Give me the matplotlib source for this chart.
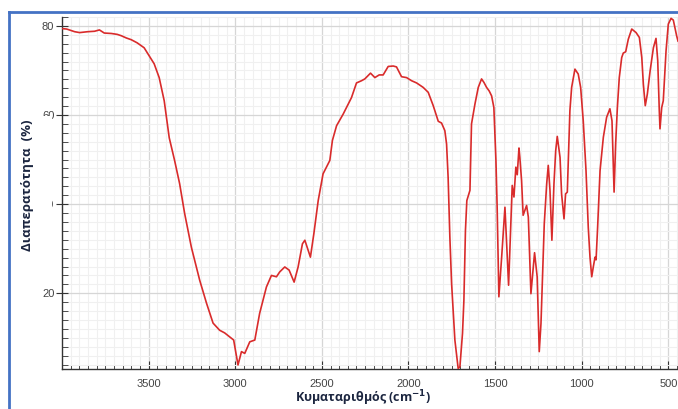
import matplotlib
matplotlib.use("Agg")
import matplotlib.pyplot as plt
from matplotlib.ticker import MultipleLocator
from matplotlib.lines import Line2D
from matplotlib.patches import Rectangle

# IR spectrum (wavenumber in cm-1, transmittance in %)
wavenumber = [4000, 3973, 3927, 3898, 3852, 3812, 3784, 3756, 3715, 3681, 3658,
              3629, 3600, 3566, 3526, 3497, 3468, 3439, 3410, 3381, 3350, 3321,
              3292, 3253, 3205, 3166, 3128, 3090, 3061, 3032, 3009, 2984, 2964,
              2945, 2916, 2887, 2859, 2820, 2791, 2762, 2743, 2714, 2689, 2660,
              2637, 2612, 2598, 2579, 2566, 2546, 2521, 2493, 2454, 2439, 2415,
              2377, 2329, 2300, 2271, 2252, 2219, 2194, 2169, 2146, 2117, 2088,
              2069, 2040, 2011, 1982, 1953, 1915, 1886, 1857, 1828, 1809, 1790,
              1780, 1771, 1761, 1751, 1732, 1713, 1703, 1688, 1680, 1671, 1663,
              1645, 1636, 1616, 1597, 1578, 1564, 1549, 1534, 1520, 1507, 1495,
              1488, 1478, 1462, 1443, 1422, 1401, 1391, 1380, 1372, 1362, 1357,
              1347, 1338, 1318, 1308, 1293, 1272, 1257, 1245, 1235, 1216, 1202,
              1193, 1183, 1172, 1160, 1150, 1141, 1125, 1116, 1102, 1093, 1083,
              1068, 1058, 1039, 1020, 1006, 991, 975, 962, 952, 942, 933, 923,
              917, 908, 894, 875, 856, 837, 825, 813, 804, 794, 783, 769, 760,
              746, 731, 711, 686, 667, 653, 644, 633, 621, 605, 586, 571, 561,
              552, 548, 538, 529, 513, 500, 484, 471, 452, 444]
transmittance = [79.4, 79.3, 78.7, 78.5, 78.7, 78.8, 79.1, 78.4, 78.3, 78.1, 77.8,
                 77.3, 76.9, 76.2, 75.1, 73.3, 71.5, 68.4, 63.2, 54.9, 49.8, 44.6,
                 37.9, 30.3, 22.9, 17.8, 13.3, 11.7, 11.1, 10.2, 9.5, 3.9, 6.9,
                 6.5, 9.1, 9.5, 15.5, 21.4, 24.0, 23.7, 24.8, 25.9, 25.2, 22.5,
                 25.9, 31.1, 31.9, 29.6, 28.1, 33.4, 40.8, 46.8, 49.8, 54.3, 57.6,
                 60.2, 63.9, 67.2, 67.7, 68.1, 69.4, 68.4, 69.0, 69.0, 70.9, 71.0,
                 70.8, 68.6, 68.4, 67.7, 67.2, 66.2, 65.1, 62.1, 58.6, 58.2, 56.5,
                 53.5, 46.0, 32.6, 22.2, 9.5, 3.1, 3.5, 11.0, 18.4, 34.1, 40.8,
                 43.1, 58.0, 62.5, 66.2, 68.1, 67.3, 66.2, 65.4, 64.3, 61.7, 49.8,
                 39.3, 19.2, 28.1, 39.3, 21.8, 44.2, 41.6, 48.3, 46.6, 52.6, 50.5,
                 45.3, 37.5, 39.7, 37.1, 19.9, 29.1, 23.7, 6.9, 13.2, 35.6, 44.6,
                 48.7, 43.1, 31.9, 44.6, 52.0, 55.2, 50.5, 42.3, 36.7, 42.3, 42.7,
                 61.0, 66.2, 70.3, 69.2, 66.2, 58.7, 47.5, 34.8, 28.1, 23.7, 25.9, 28.1,
                 27.5, 34.8, 47.5, 55.0, 59.5, 61.4, 58.7, 42.7, 53.5, 61.7, 68.4, 72.9, 73.9,
                 74.2, 77.0, 79.3, 78.5, 77.4, 72.9, 66.9, 62.1, 64.7, 69.9, 75.1, 77.2, 72.2,
                 61.0, 56.9, 61.7, 63.2, 74.4, 80.4, 81.7, 81.3, 77.8, 76.6]

y_ticks = [20, 40, 60, 80]
x_ticks = [3500, 3000, 2500, 2000, 1500, 1000, 500]

W, H = 678, 409
fig = plt.figure(figsize=(W / 100, H / 100), dpi=100)
ax = fig.add_axes([62 / W, 40 / H, 616 / W, 352 / H])

ax.plot(wavenumber, transmittance, color='#d92b2b', lw=1.2, zorder=3)

ax.set_xlim(4000, 444)
ax.set_ylim(3, 82)

ax.set_xticks(x_ticks)
ax.set_yticks(y_ticks)
ax.xaxis.set_minor_locator(MultipleLocator(50))
ax.yaxis.set_minor_locator(MultipleLocator(2))

ax.grid(which='major', color='#d6d6d6', lw=0.9, zorder=0)
ax.grid(which='minor', color='#f0f0f0', lw=0.8, zorder=0)
ax.set_axisbelow(True)

for side in ['top', 'right']:
    ax.spines[side].set_visible(False)
for side in ['left', 'bottom']:
    ax.spines[side].set_color('#333333')
    ax.spines[side].set_linewidth(1.0)

ax.tick_params(axis='x', which='major', direction='in', length=6, color='#333333',
               labelsize=8, labelcolor='#444444', pad=7)
ax.tick_params(axis='x', which='minor', direction='in', length=3, color='#333333')
ax.tick_params(axis='y', which='major', direction='inout', length=9, color='#333333',
               labelsize=8, labelcolor='#444444', pad=1)
ax.tick_params(axis='y', which='minor', direction='in', length=4, color='#333333')
for lab in ax.get_xticklabels() + ax.get_yticklabels():
    lab.set_family('Liberation Sans')

fig.text(363 / W, 1 - 398 / H, r'Κυματαριθμός (cm$^{\mathbf{-1}}$)',
         family='Open Sans', fontweight='bold', fontsize=9, color='#1c2640',
         ha='center', va='center')

# white block behind the y label hides part of the tick labels, as in the screenshot
fig.add_artist(Rectangle((14 / W, 1 - 252 / H), 38 / W, 136 / H, transform=fig.transFigure,
                         facecolor='white', edgecolor='none', zorder=4))
fig.text(28 / W, 1 - 185 / H, 'Διαπερατότητα  (%)', rotation=90,
         family='Open Sans', fontweight='bold', fontsize=9.5, color='#1c2640',
         ha='center', va='center', zorder=5)

# blue frame of the screenshot
fig.add_artist(Line2D([9 / W, 9 / W], [0, 1 - 12 / H], color='#4472c4', lw=2,
                      transform=fig.transFigure, zorder=10))
fig.add_artist(Line2D([9 / W, 1], [1 - 12 / H, 1 - 12 / H], color='#4472c4', lw=2,
                      transform=fig.transFigure, zorder=10))

fig.savefig('out.png', dpi=100, facecolor='white')
